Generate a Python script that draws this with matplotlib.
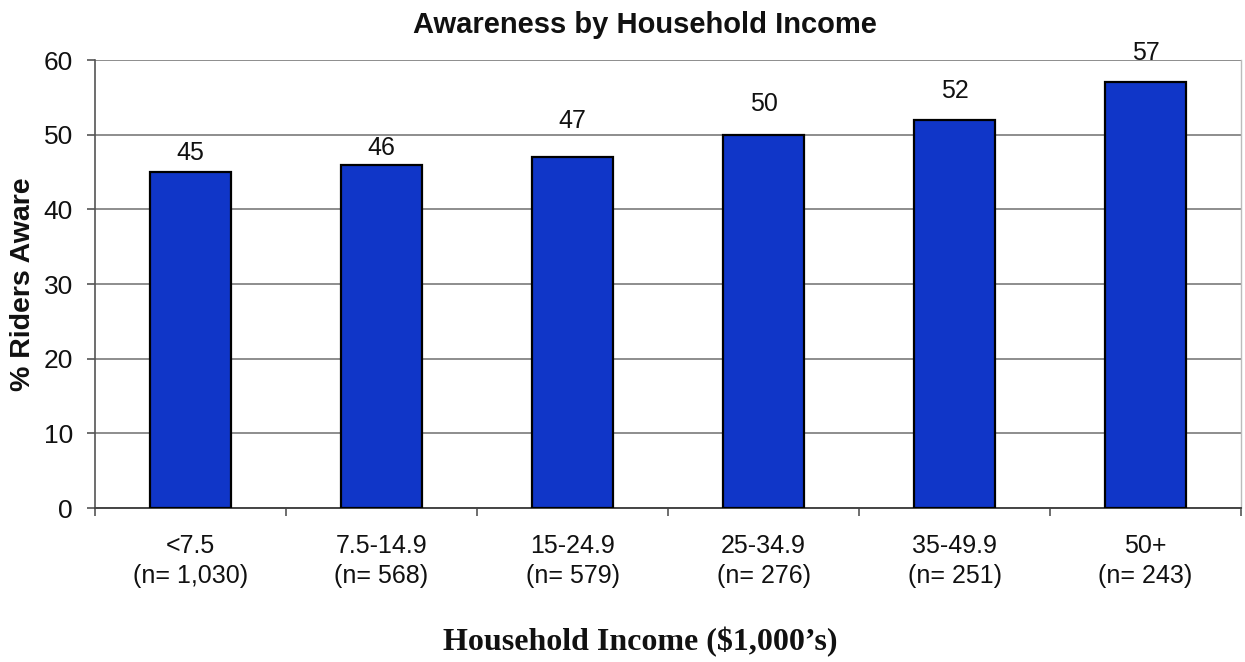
import matplotlib.pyplot as plt
import numpy as np

# Awareness share by household income band
income_bands = ['<7.5', '7.5-14.9', '15-24.9', '25-34.9', '35-49.9', '50+']
sample_sizes = ['1,030', '568', '579', '276', '251', '243']
pct_aware = [45, 46, 47, 50, 52, 57]

# vertical offsets (points) of the value labels above each bar
label_offsets = [14, 12, 26, 22, 21, 21]

bar_color = '#1036c8'
grid_color = '#7a7a7a'

fig = plt.figure(figsize=(12.45, 6.62), dpi=100)
ax = fig.add_axes([0.0763, 0.2326, 0.9205, 0.6767])

x = np.arange(len(income_bands))
bars = ax.bar(x, pct_aware, width=0.42, color=bar_color, edgecolor='black',
              linewidth=1.6, zorder=3)

for bar, val, off in zip(bars, pct_aware, label_offsets):
    ax.annotate(str(val), (bar.get_x() + bar.get_width() / 2, val),
                xytext=(0, off), textcoords='offset points',
                ha='center', va='center', fontsize=18,
                family='Liberation Sans', color='#111111')

ax.set_xlim(-0.5, len(income_bands) - 0.5)
ax.set_ylim(0, 60)
ax.set_yticks(np.arange(0, 61, 10))
ax.yaxis.grid(True, color=grid_color, linewidth=1.2, zorder=0)
ax.set_axisbelow(True)

# category labels at bar centres, tick marks between categories
ax.set_xticks(x)
ax.set_xticklabels([f'{b}\n(n= {n})' for b, n in zip(income_bands, sample_sizes)],
                   fontsize=18, family='Liberation Sans', linespacing=1.3,
                   color='#111111')
ax.tick_params(axis='x', which='major', length=0, pad=19)
ax.set_xticks(np.arange(-0.5, len(income_bands)), minor=True)
ax.tick_params(axis='x', which='minor', length=6, width=1.2, color='#555555',
               direction='out')
ax.tick_params(axis='y', length=6, width=1.2, color='#555555', pad=10,
               labelsize=19)
for lbl in ax.get_yticklabels():
    lbl.set_family('Liberation Sans')
    lbl.set_color('#111111')

ax.spines['top'].set_visible(False)
ax.spines['left'].set_color('#555555')
ax.spines['left'].set_linewidth(1.2)
ax.spines['bottom'].set_color('#444444')
ax.spines['bottom'].set_linewidth(1.4)
ax.spines['right'].set_color('#bbbbbb')
ax.spines['right'].set_linewidth(1.0)

ax.set_ylabel('% Riders Aware', fontsize=20.5, fontweight='bold',
              family='Liberation Sans', labelpad=5, color='#111111')

fig.text(0.518, 0.962, 'Awareness by Household Income', ha='center', va='center',
         fontsize=21, fontweight='bold', family='Liberation Sans', color='#111111')
fig.text(0.514, 0.030, 'Household Income ($1,000\u2019s)', ha='center', va='center',
         fontsize=23, fontweight='bold', family='Liberation Serif', color='#111111')

plt.savefig('out.png', dpi=100)
